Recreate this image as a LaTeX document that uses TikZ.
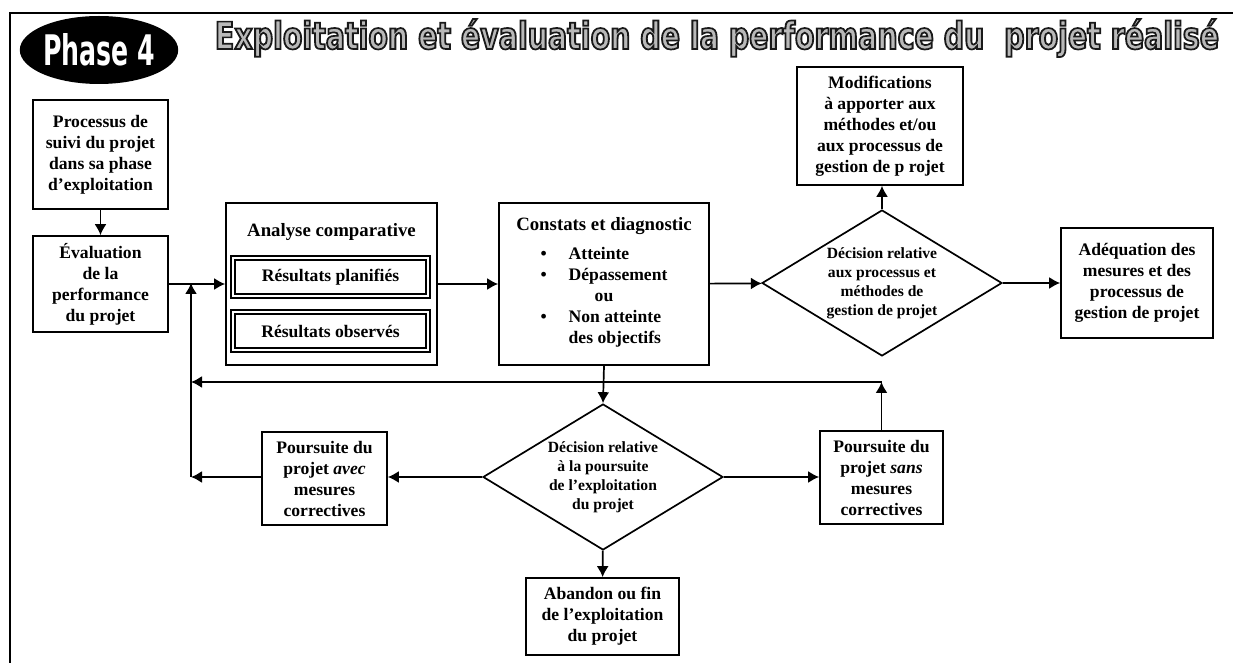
\documentclass[tikz,border=0pt]{standalone}
\usepackage{fontspec}
\setmainfont{Liberation Serif}
\newfontfamily\titlefont{DejaVu Sans}[FakeStretch=0.7]
\newcommand{\outlinetext}[1]{{\color{gray!55}\special{pdf:literal direct 2 Tr 0.45 w 0.1 G}#1\special{pdf:literal direct 0 Tr}}}
\usetikzlibrary{arrows.meta,shapes.geometric}

\begin{document}
\begin{tikzpicture}[
		x=0.5pt, y=-0.5pt,
		box/.style={
			draw,
			line width=0.85pt,
			align=center,
			inner sep=1pt,
			font=\bfseries\fontsize{8.8}{10.5}\selectfont
		},
		res box/.style={box, double, double distance=1.2pt, line width=0.7pt},
		decision/.style={
			diamond,
			draw,
			line width=0.85pt,
			align=center,
			aspect=1.64,
			inner sep=0pt,
			minimum width=120pt,
			minimum height=73pt,
			font=\bfseries\fontsize{7.8}{9.5}\selectfont
		},
		head/.style={align=center, font=\bfseries\fontsize{9.4}{11}\selectfont},
		link/.style={->, line width=0.85pt},
		>={Latex[length=5.5pt,width=6pt]}
		]
		\useasboundingbox (0,0) rectangle (1233,663);
		
		% frame and title
		\draw[line width=0.7pt] (10,663) -- (10,13) -- (1233,13);
		\node[ellipse, fill=black, inner sep=0pt, minimum width=79pt, minimum height=34pt] (phase) at (99,50)
		{\resizebox{56pt}{16pt}{\color{white}\titlefont\bfseries Phase 4}};
		\node[anchor=base, inner sep=0pt] (title) at (717,49)
		{\resizebox{502pt}{15pt}{\titlefont\bfseries\outlinetext{Exploitation et évaluation de la performance du\ \ projet réalisé}}};
		
		% left column
		\node[box, minimum width=67.5pt, minimum height=54.5pt] (proc) at (100.5,154.5)
		{Processus de\\suivi du projet\\dans sa phase\\d'exploitation};
		\node[box, minimum width=67.5pt, minimum height=48pt] (eval) at (100.5,284)
		{Évaluation\\de la\\performance\\du projet};
		
		% analyse comparative
		\node[box, minimum width=105.5pt, minimum height=81pt] (anal) at (331.5,284) {};
		\node[head] (analtitle) at (331.5,232) {Analyse comparative};
		\node[res box, minimum width=97.5pt, minimum height=19pt] (plan) at (330.5,277) {Résultats planifiés};
		\node[res box, minimum width=97.5pt, minimum height=19pt] (obs) at (330.5,331) {Résultats observés};
		
		% constats
		\node[box, minimum width=105pt, minimum height=81pt] (diag) at (604,284)
		{{\fontsize{9.4}{11}\selectfont Constats et diagnostic}\\[4pt]
			\begin{tabular}{@{}l@{\hspace{11pt}}l@{}}
				\textbullet & Atteinte\\
				\textbullet & Dépassement\\
				& \hspace{13pt}ou\\
				\textbullet & Non atteinte\\
				& des objectifs
		\end{tabular}};
		
		% right part
		\node[decision] (dec1) at (882,283)
		{Décision relative\\aux processus et\\méthodes de\\gestion de projet};
		\node[box, minimum width=83pt, minimum height=59pt] (modif) at (880,126)
		{Modifications\\à apporter aux\\méthodes et/ou\\aux processus de\\gestion de p rojet};
		\node[box, minimum width=76pt, minimum height=55pt] (adeq) at (1137,283)
		{Adéquation des\\mesures et des\\processus de\\gestion de projet};
		
		% bottom part
		\node[decision] (dec2) at (603,477)
		{Décision relative\\à la poursuite\\de l'exploitation\\du projet};
		\node[box, minimum width=62.5pt, minimum height=46.5pt] (avec) at (324.5,478.5)
		{Poursuite du\\projet \textit{avec}\\mesures\\correctives};
		\node[box, minimum width=61.5pt, minimum height=46.5pt] (sans) at (881.5,477.5)
		{Poursuite du\\projet \textit{sans}\\mesures\\correctives};
		\node[box, minimum width=76.5pt, minimum height=38.5pt] (fin) at (602.5,616.5)
		{Abandon ou fin\\de l'exploitation\\du projet};
		
		\coordinate (fbbot) at (191,477);
		\coordinate (fbtop) at (191,283);
		\coordinate (fbmid) at (191,382);
		
		% connectors
		\draw[link] (proc) -- (eval);
		\draw[link] (eval) -- (anal);
		\draw[link] (anal) -- (diag);
		\draw[link] (diag) -- (dec1);
		\draw[link] (dec1.north) -- (dec1.north |- modif.south);
		\draw[link] (dec1) -- (adeq);
		\draw[link] (diag.south) -- (dec2.north);
		\draw[link] (dec2.west) -- (dec2.west -| avec.east);
		\draw[link] (dec2.east) -- (dec2.east -| sans.west);
		\draw[link] (dec2) -- (fin);
		\draw[link] (avec.west |- fbbot) -- (fbbot);
		\draw[link] (fbbot) -- (fbtop);
		\draw[link] (sans.north) -- (sans.north |- fbmid);
		\draw[link] (sans.north |- fbmid) -- (fbmid);
		
	\end{tikzpicture}
\end{document}
